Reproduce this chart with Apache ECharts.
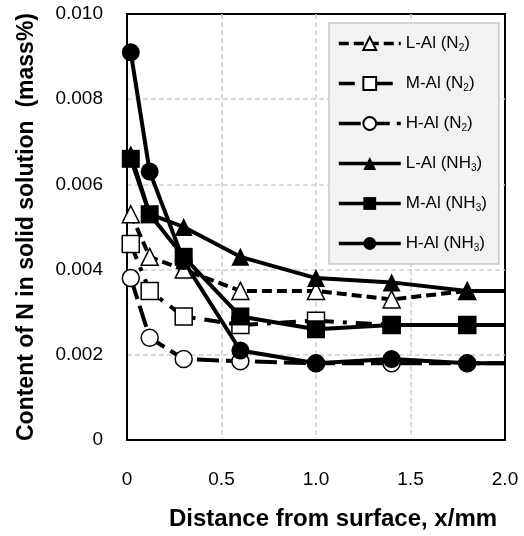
<!DOCTYPE html>
<html>
<head>
<meta charset="utf-8">
<script src="https://cdn.jsdelivr.net/npm/echarts@6/dist/echarts.min.js"></script>
<style>
  html, body { margin: 0; padding: 0; background: #fff; }
  #chart { width: 524px; height: 536px; }
</style>
</head>
<body>
<div id="chart"></div>
<script>
// distance from surface (mm); last point is where the line runs into the frame
const distance = [0.02, 0.12, 0.3, 0.6, 1.0, 1.4, 1.8, 2.0];

const lowAlN2 = [0.0053, 0.0043, 0.0040, 0.0035, 0.0035, 0.0033, 0.0035, 0.0035];
const midAlN2 = [0.0046, 0.0035, 0.0029, 0.0027, 0.0028, 0.0027, 0.0027, 0.0027];
const highAlN2 = [0.0038, 0.0024, 0.0019, 0.00185, 0.0018, 0.0018, 0.0018, 0.0018];
const lowAlNH3 = [0.0067, 0.0053, 0.0050, 0.0043, 0.0038, 0.0037, 0.0035, 0.0035];
const midAlNH3 = [0.0066, 0.0053, 0.0043, 0.0029, 0.0026, 0.0027, 0.0027, 0.0027];
const highAlNH3 = [0.0091, 0.0063, 0.0042, 0.0021, 0.0018, 0.0019, 0.0018, 0.0018];

const seriesNames = ["L-Al (N2)", "M-Al (N2)", "H-Al (N2)", "L-Al (NH3)", "M-Al (NH3)", "H-Al (NH3)"];

const FONT = "'Liberation Sans', Arial, sans-serif";

function toPoints(values) {
  return values.map((v, i) => {
    const item = { value: [distance[i], v] };
    if (i === values.length - 1) item.symbol = "none";
    return item;
  });
}

function makeSeries(name, values, symbol, open, dash) {
  return {
    name: name,
    type: "line",
    data: toPoints(values),
    symbol: symbol,
    symbolSize: open ? 17 : 18,
    showSymbol: true,
    lineStyle: { color: "#000", width: 4, type: dash || "solid" },
    itemStyle: {
      color: open ? "#fff" : "#000",
      borderColor: "#000",
      borderWidth: open ? 1.5 : 0,
    },
    emphasis: { disabled: true },
    animation: false,
  };
}

const chart = echarts.init(document.getElementById("chart"));

const gridLine = {
  show: true,
  showMinLine: false,
  showMaxLine: false,
  lineStyle: { color: "#cfcfcf", width: 1.5, type: [5, 3] },
};

chart.setOption({
  backgroundColor: "#fff",
  grid: {
    left: 127,
    right: 19,
    top: 14,
    bottom: 95,
    show: true,
    borderColor: "#000",
    borderWidth: 2,
  },
  legend: {
    orient: "vertical",
    left: 329,
    top: 23,
    padding: [12, 12, 11, 8],
    itemGap: 22,
    itemWidth: 62,
    itemHeight: 16,
    backgroundColor: "#f2f2f2",
    borderColor: "#c8c8c8",
    borderWidth: 1.5,
    lineStyle: { width: 3.5 },
    data: seriesNames,
    formatter: (name) => {
      const m = name.match(/^(.*\()(N|NH)(\d)\)$/);
      return "{t|" + m[1] + m[2] + "}{s|" + m[3] + "}{t|)}";
    },
    textStyle: {
      fontFamily: FONT,
      color: "#000",
      rich: {
        t: { fontSize: 17, fontFamily: FONT, color: "#000", lineHeight: 19 },
        s: { fontSize: 10, fontFamily: FONT, color: "#000", verticalAlign: "bottom", lineHeight: 19 },
      },
    },
  },
  xAxis: {
    type: "value",
    min: 0,
    max: 2,
    interval: 0.5,
    name: "Distance from surface, x/mm",
    nameLocation: "middle",
    nameGap: 67,
    nameTextStyle: {
      fontFamily: FONT,
      fontSize: 24,
      fontWeight: "bold",
      color: "#000",
      padding: [0, 0, 0, 34],
    },
    axisLine: { show: true, lineStyle: { color: "#000", width: 2 } },
    axisTick: { show: false },
    axisLabel: {
      margin: 30,
      fontFamily: FONT,
      fontSize: 19,
      color: "#000",
      formatter: (v) => (v === 0 ? "0" : v.toFixed(1)),
    },
    splitLine: gridLine,
  },
  yAxis: {
    type: "value",
    min: 0,
    max: 0.01,
    interval: 0.002,
    name: "Content of N in solid solution  (mass%)",
    nameLocation: "middle",
    nameGap: 89,
    nameRotate: 90,
    nameTextStyle: {
      fontFamily: FONT,
      fontSize: 23,
      fontWeight: "bold",
      color: "#000",
    },
    axisLine: { show: true, lineStyle: { color: "#000", width: 2 } },
    axisTick: { show: false },
    axisLabel: {
      margin: 24,
      fontFamily: FONT,
      fontSize: 19,
      color: "#000",
      formatter: (v) => (v === 0 ? "0" : v.toFixed(3)),
    },
    splitLine: gridLine,
  },
  series: [
    makeSeries(seriesNames[0], lowAlN2, "triangle", true, [10, 5]),
    makeSeries(seriesNames[1], midAlN2, "rect", true, [16, 9, 4, 9]),
    makeSeries(seriesNames[2], highAlN2, "circle", true, [22, 7]),
    makeSeries(seriesNames[3], lowAlNH3, "triangle", false),
    makeSeries(seriesNames[4], midAlNH3, "rect", false),
    makeSeries(seriesNames[5], highAlNH3, "circle", false),
  ],
});
</script>
</body>
</html>
